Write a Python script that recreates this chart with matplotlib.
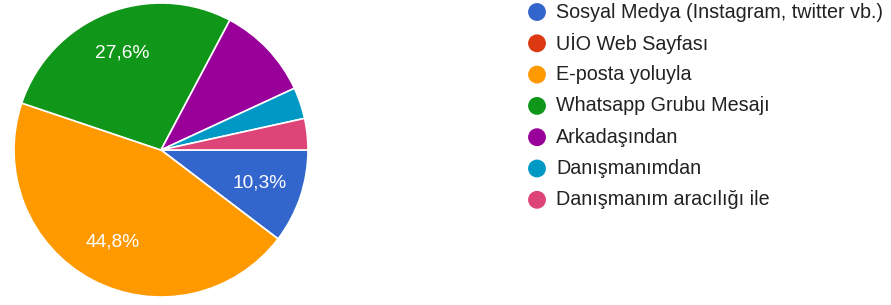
import numpy as np
import matplotlib.pyplot as plt

plt.rcParams['font.family'] = ['Liberation Sans', 'DejaVu Sans']

# Data
labels = ['Sosyal Medya (Instagram, twitter vb.)', 'UİO Web Sayfası', 'E-posta yoluyla',
          'Whatsapp Grubu Mesajı', 'Arkadaşından', 'Danışmanımdan', 'Danışmanım aracılığı ile']
counts = [3, 0, 13, 8, 3, 1, 1]
colors = ['#3366cc', '#dc3912', '#ff9900', '#109618', '#990099', '#0099c6', '#dd4477']
show_pct = [True, False, True, True, False, False, False]

W, H = 891, 305
fig = plt.figure(figsize=(W / 100, H / 100), dpi=100)

# Pie axes (pixel geometry of the reference)
cx, cy, R = 161, 150, 147
ax = fig.add_axes([(cx - R) / W, (H - cy - R) / H, 2 * R / W, 2 * R / H])
wedges, _ = ax.pie(counts, colors=colors, startangle=0, counterclock=False, radius=1,
                   wedgeprops=dict(edgecolor='white', linewidth=1.2))
ax.set_xlim(-1, 1)
ax.set_ylim(-1, 1)
ax.set_aspect('equal')
ax.axis('off')

total = sum(counts)
for w, c, show in zip(wedges, counts, show_pct):
    if not show:
        continue
    mid = np.deg2rad((w.theta1 + w.theta2) / 2)
    r = 0.71
    pct = ('%.1f%%' % (100 * c / total)).replace('.', ',')
    ax.text(r * np.cos(mid), r * np.sin(mid), pct, color='white', fontsize=13.8,
            ha='center', va='center')

# Legend in pixel coords
lg = fig.add_axes([0, 0, 1, 1])
lg.set_xlim(0, W)
lg.set_ylim(H, 0)
lg.axis('off')
y0, dy = 12, 31.3
for i, (lab, col) in enumerate(zip(labels, colors)):
    y = y0 + i * dy
    lg.scatter([537], [y], s=165, color=col, edgecolors='none')
    lg.text(556, y, lab, fontsize=14.2, color='#222222', ha='left', va='center')

fig.savefig('out.png', dpi=100)
